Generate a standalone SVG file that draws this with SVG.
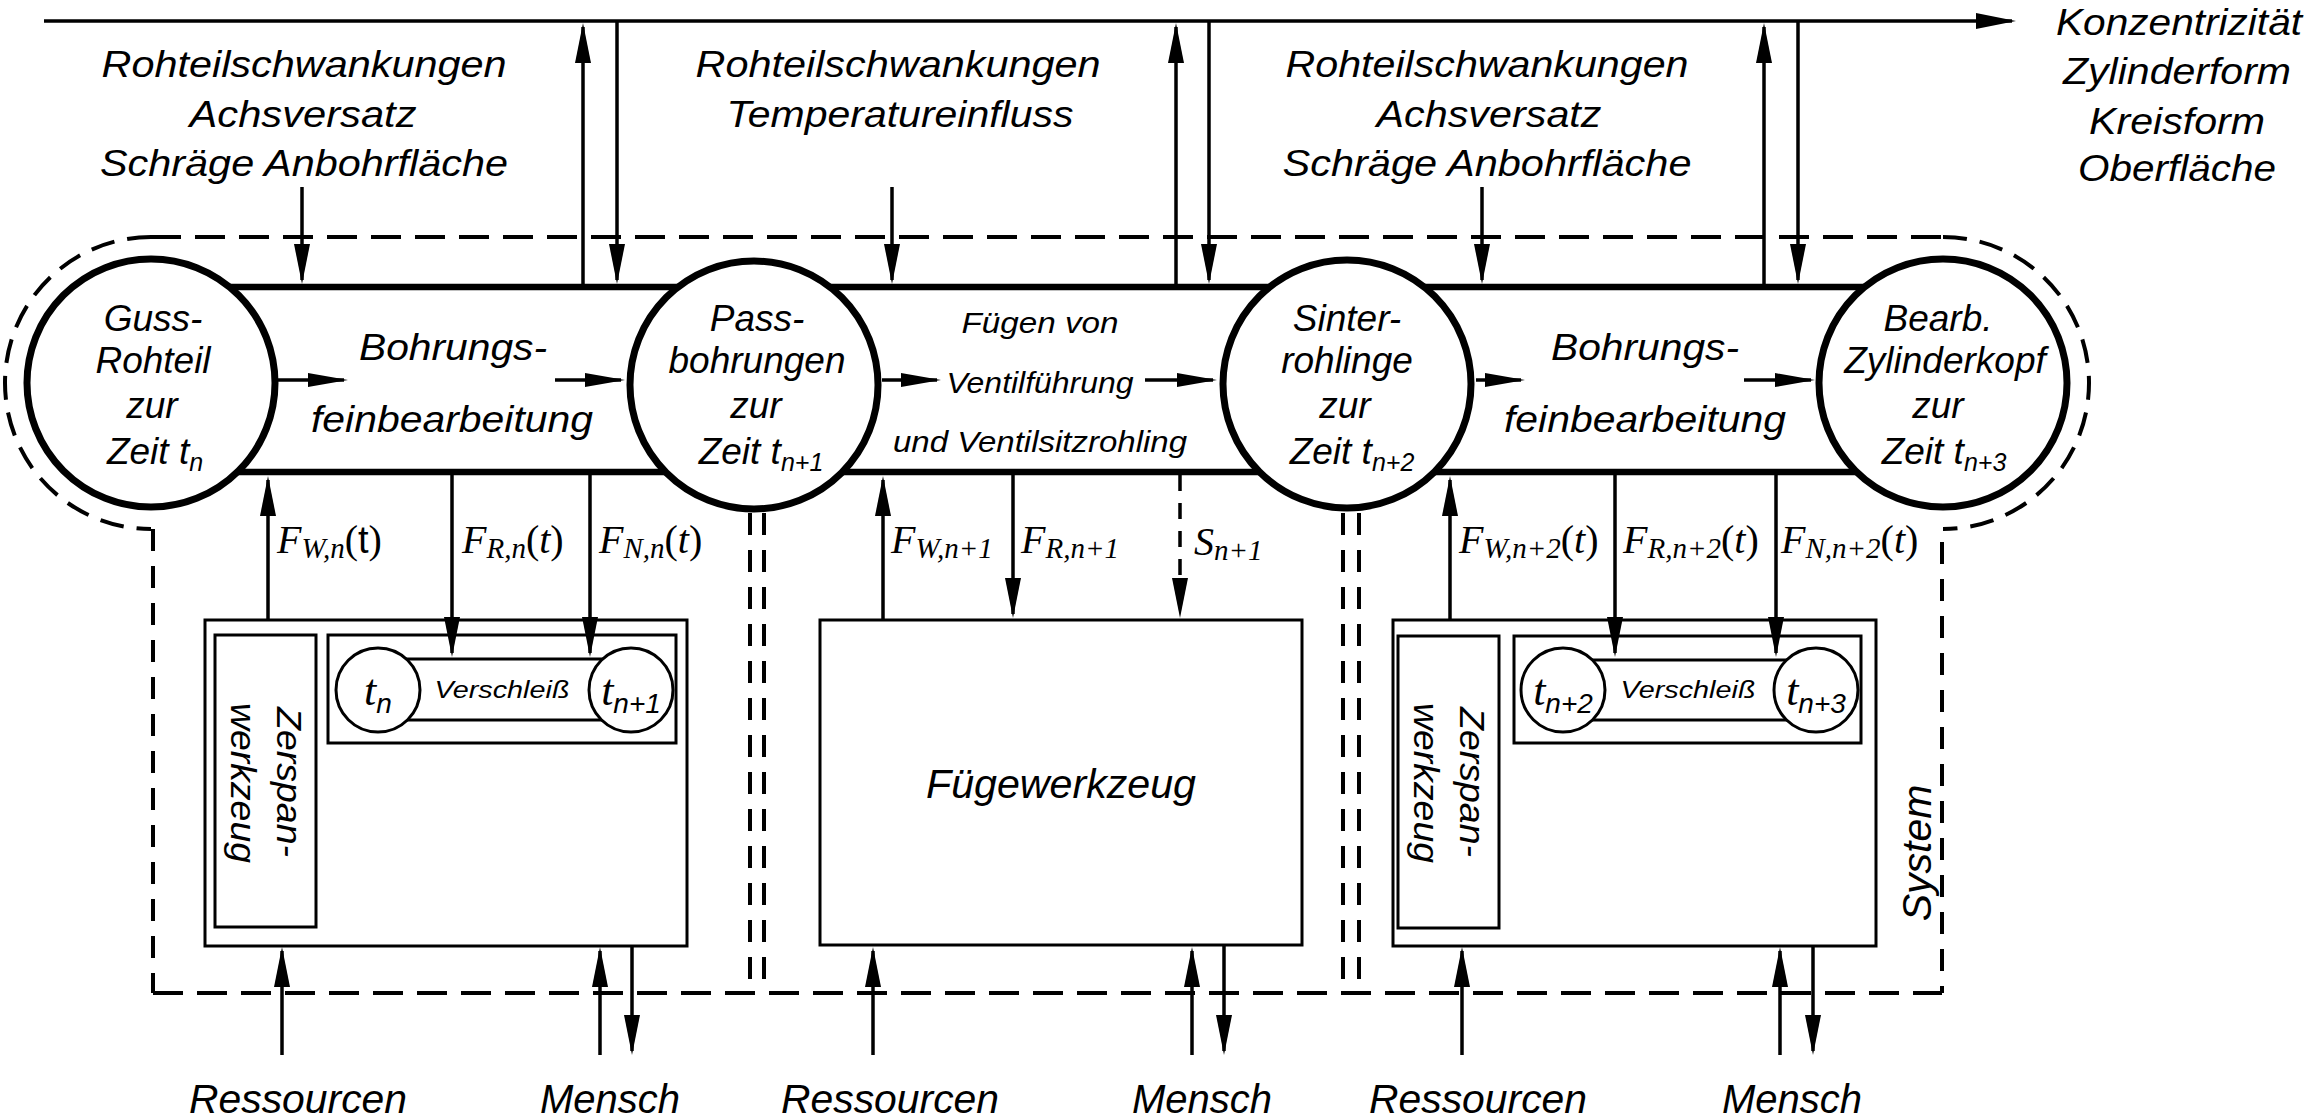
<svg xmlns="http://www.w3.org/2000/svg" width="2311" height="1120" viewBox="0 0 2311 1120">
<defs>
<marker id="ah" markerUnits="userSpaceOnUse" viewBox="0 0 40 16" markerWidth="40" markerHeight="16" refX="36" refY="8" orient="auto"><path d="M0,0 L40,8 L0,16 z" fill="#000"/></marker>
<marker id="ahs" markerUnits="userSpaceOnUse" viewBox="0 0 40 14" markerWidth="40" markerHeight="14" refX="36" refY="7" orient="auto"><path d="M0,0 L40,7 L0,14 z" fill="#000"/></marker>
</defs>
<style>
text{font-family:"Liberation Sans",Arial,sans-serif;font-style:italic;fill:#000}
.m{font-family:"Liberation Serif","Times New Roman",serif;font-style:italic}
.ar{stroke:#000;stroke-width:3.5;fill:none;marker-end:url(#ah)}
.ars{stroke:#000;stroke-width:3.5;fill:none;marker-end:url(#ahs)}
.ard{stroke:#000;stroke-width:3.5;fill:none;stroke-dasharray:16 12;marker-end:url(#ah)}
.box{fill:#fff;stroke:#000;stroke-width:3}
.boxn{fill:none;stroke:#000;stroke-width:3}
.dh{fill:none;stroke:#000;stroke-width:4;stroke-dasharray:30 14}
.dv{fill:none;stroke:#000;stroke-width:4;stroke-dasharray:22 15}
.da{fill:none;stroke:#000;stroke-width:4;stroke-dasharray:24 13}
.big{fill:#fff;stroke:#000;stroke-width:7}
.sm{fill:#fff;stroke:#000;stroke-width:3}
.band{stroke:#000;stroke-width:6.5;fill:none}
</style>
<rect x="0" y="0" width="2311" height="1120" fill="#fff"/>

<g id="system-boundary">
<path class="dh" d="M151 237 H1943"/>
<path class="da" d="M151 237 A146 146 0 0 0 151 529"/>
<path class="da" d="M1943 237 A146 146 0 0 1 1943 529"/>
<path class="dv" d="M153 529 V993"/>
<path class="dv" d="M1942 542 V993"/>
<path class="dh" d="M153 993 H1942"/>
<path class="dv" d="M750 513 V993"/>
<path class="dv" d="M764 513 V993"/>
<path class="dv" d="M1343 513 V993"/>
<path class="dv" d="M1359 513 V993"/>
<text transform="translate(1931,853) rotate(-90)" font-size="41" text-anchor="middle">System</text>
</g>

<g id="process-band">
<path class="band" d="M151 287 H1943 M151 472 H1943"/>
<text x="453" y="360" font-size="37" text-anchor="middle" textLength="188" lengthAdjust="spacingAndGlyphs">Bohrungs-</text>
<text x="452" y="432" font-size="37" text-anchor="middle" textLength="282" lengthAdjust="spacingAndGlyphs">feinbearbeitung</text>
<text x="1040" y="333" font-size="29" text-anchor="middle" textLength="157" lengthAdjust="spacingAndGlyphs">Fügen von</text>
<text x="1040" y="393" font-size="29" text-anchor="middle" textLength="187" lengthAdjust="spacingAndGlyphs">Ventilführung</text>
<text x="1040" y="452" font-size="29" text-anchor="middle" textLength="294" lengthAdjust="spacingAndGlyphs">und Ventilsitzrohling</text>
<text x="1645" y="360" font-size="37" text-anchor="middle" textLength="188" lengthAdjust="spacingAndGlyphs">Bohrungs-</text>
<text x="1645" y="432" font-size="37" text-anchor="middle" textLength="282" lengthAdjust="spacingAndGlyphs">feinbearbeitung</text>
</g>

<g id="n-guss">
<circle class="big" cx="151" cy="383" r="124"/>
<text x="153" y="331" font-size="37" text-anchor="middle">Guss-</text>
<text x="153" y="373" font-size="37" text-anchor="middle">Rohteil</text>
<text x="152" y="418" font-size="37" text-anchor="middle">zur</text>
<text x="155" y="464" font-size="37" text-anchor="middle">Zeit t<tspan font-size="25" dy="7">n</tspan></text>
</g>
<g id="n-pass">
<circle class="big" cx="754" cy="385" r="124"/>
<text x="757" y="331" font-size="37" text-anchor="middle">Pass-</text>
<text x="757" y="373" font-size="37" text-anchor="middle">bohrungen</text>
<text x="756" y="418" font-size="37" text-anchor="middle">zur</text>
<text x="761" y="464" font-size="37" text-anchor="middle">Zeit t<tspan font-size="25" dy="7">n+1</tspan></text>
</g>
<g id="n-sinter">
<circle class="big" cx="1347" cy="384" r="124"/>
<text x="1347" y="331" font-size="37" text-anchor="middle">Sinter-</text>
<text x="1347" y="373" font-size="37" text-anchor="middle">rohlinge</text>
<text x="1345" y="418" font-size="37" text-anchor="middle">zur</text>
<text x="1352" y="464" font-size="37" text-anchor="middle">Zeit t<tspan font-size="25" dy="7">n+2</tspan></text>
</g>
<g id="n-bearb">
<circle class="big" cx="1943" cy="383" r="124"/>
<text x="1938" y="331" font-size="37" text-anchor="middle">Bearb.</text>
<text x="1945" y="373" font-size="37" text-anchor="middle">Zylinderkopf</text>
<text x="1938" y="418" font-size="37" text-anchor="middle">zur</text>
<text x="1944" y="464" font-size="37" text-anchor="middle">Zeit t<tspan font-size="25" dy="7">n+3</tspan></text>
</g>

<g id="disturbances">
<text x="304" y="77" font-size="37" text-anchor="middle" textLength="405" lengthAdjust="spacingAndGlyphs">Rohteilschwankungen</text>
<text x="303" y="127" font-size="37" text-anchor="middle" textLength="227" lengthAdjust="spacingAndGlyphs">Achsversatz</text>
<text x="304" y="176" font-size="37" text-anchor="middle" textLength="408" lengthAdjust="spacingAndGlyphs">Schräge Anbohrfläche</text>
<text x="898" y="77" font-size="37" text-anchor="middle" textLength="405" lengthAdjust="spacingAndGlyphs">Rohteilschwankungen</text>
<text x="900" y="127" font-size="37" text-anchor="middle" textLength="347" lengthAdjust="spacingAndGlyphs">Temperatureinfluss</text>
<text x="1487" y="77" font-size="37" text-anchor="middle" textLength="403" lengthAdjust="spacingAndGlyphs">Rohteilschwankungen</text>
<text x="1489" y="127" font-size="37" text-anchor="middle" textLength="225" lengthAdjust="spacingAndGlyphs">Achsversatz</text>
<text x="1487" y="176" font-size="37" text-anchor="middle" textLength="409" lengthAdjust="spacingAndGlyphs">Schräge Anbohrfläche</text>
</g>

<g id="output">
<text x="2179" y="35" font-size="36" text-anchor="middle" textLength="246" lengthAdjust="spacingAndGlyphs">Konzentrizität</text>
<text x="2177" y="84" font-size="36" text-anchor="middle" textLength="228" lengthAdjust="spacingAndGlyphs">Zylinderform</text>
<text x="2177" y="134" font-size="36" text-anchor="middle" textLength="176" lengthAdjust="spacingAndGlyphs">Kreisform</text>
<text x="2177" y="181" font-size="36" text-anchor="middle" textLength="198" lengthAdjust="spacingAndGlyphs">Oberfläche</text>
</g>

<g id="tool-1">
<rect class="box" x="205" y="620" width="482" height="326"/>
<rect class="boxn" x="215" y="635" width="101" height="292"/>
<text transform="translate(277,782) rotate(90)" font-size="35" text-anchor="middle" textLength="150" lengthAdjust="spacingAndGlyphs">Zerspan-</text>
<text transform="translate(231,783) rotate(90)" font-size="35" text-anchor="middle" textLength="160" lengthAdjust="spacingAndGlyphs">werkzeug</text>
<rect class="boxn" x="328" y="635" width="348" height="108"/>
<rect class="boxn" x="378" y="659" width="253" height="61"/>
<circle class="sm" cx="378" cy="690" r="42"/>
<circle class="sm" cx="631" cy="690" r="42"/>
<text x="502" y="698" font-size="24" text-anchor="middle" textLength="135" lengthAdjust="spacingAndGlyphs">Verschleiß</text>
<text class="m" x="378" y="705" font-size="44" text-anchor="middle">t<tspan font-family="Liberation Sans" font-size="28" dy="8">n</tspan></text>
<text class="m" x="631" y="705" font-size="44" text-anchor="middle">t<tspan font-family="Liberation Sans" font-size="28" dy="8">n+1</tspan></text>
</g>

<g id="tool-2">
<rect class="box" x="820" y="620" width="482" height="325"/>
<text x="1061" y="798" font-size="40" text-anchor="middle" textLength="270" lengthAdjust="spacingAndGlyphs">Fügewerkzeug</text>
</g>

<g id="tool-3">
<rect class="box" x="1393" y="620" width="483" height="326"/>
<rect class="boxn" x="1398" y="636" width="101" height="292"/>
<text transform="translate(1460,782) rotate(90)" font-size="35" text-anchor="middle" textLength="150" lengthAdjust="spacingAndGlyphs">Zerspan-</text>
<text transform="translate(1414,783) rotate(90)" font-size="35" text-anchor="middle" textLength="160" lengthAdjust="spacingAndGlyphs">werkzeug</text>
<rect class="boxn" x="1514" y="636" width="347" height="107"/>
<rect class="boxn" x="1563" y="660" width="253" height="60"/>
<circle class="sm" cx="1563" cy="690" r="42"/>
<circle class="sm" cx="1816" cy="690" r="42"/>
<text x="1688" y="698" font-size="24" text-anchor="middle" textLength="135" lengthAdjust="spacingAndGlyphs">Verschleiß</text>
<text class="m" x="1563" y="705" font-size="44" text-anchor="middle">t<tspan font-family="Liberation Sans" font-size="28" dy="8">n+2</tspan></text>
<text class="m" x="1816" y="705" font-size="44" text-anchor="middle">t<tspan font-family="Liberation Sans" font-size="28" dy="8">n+3</tspan></text>
</g>

<g id="inputs">
<text x="298" y="1113" font-size="40" text-anchor="middle" textLength="218" lengthAdjust="spacingAndGlyphs">Ressourcen</text>
<text x="610" y="1113" font-size="40" text-anchor="middle">Mensch</text>
<text x="890" y="1113" font-size="40" text-anchor="middle" textLength="218" lengthAdjust="spacingAndGlyphs">Ressourcen</text>
<text x="1202" y="1113" font-size="40" text-anchor="middle">Mensch</text>
<text x="1478" y="1113" font-size="40" text-anchor="middle" textLength="218" lengthAdjust="spacingAndGlyphs">Ressourcen</text>
<text x="1792" y="1113" font-size="40" text-anchor="middle">Mensch</text>
</g>

<g id="connectors">
<path class="ar" d="M44 21 H2012"/>
<path class="ar" d="M583 287 V27"/>
<path class="ar" d="M617 21 V280"/>
<path class="ar" d="M1176 287 V27"/>
<path class="ar" d="M1209 21 V280"/>
<path class="ar" d="M1764 287 V27"/>
<path class="ar" d="M1798 21 V280"/>
<path class="ar" d="M302 187 V280"/>
<path class="ar" d="M892 187 V280"/>
<path class="ar" d="M1482 187 V280"/>
<path class="ars" d="M277 380 H344"/>
<path class="ars" d="M555 380 H621"/>
<path class="ars" d="M882 380 H937"/>
<path class="ars" d="M1145 380 H1213"/>
<path class="ars" d="M1476 380 H1521"/>
<path class="ars" d="M1744 380 H1811"/>
<path class="ar" d="M268 620 V480"/>
<path class="ar" d="M452 475 V653"/>
<path class="ar" d="M590 475 V653"/>
<path class="ar" d="M883 620 V480"/>
<path class="ar" d="M1013 475 V614"/>
<path class="ard" d="M1180 475 V614"/>
<path class="ar" d="M1450 620 V480"/>
<path class="ar" d="M1615 475 V653"/>
<path class="ar" d="M1776 475 V653"/>
<path class="ar" d="M282 1055 V951"/>
<path class="ar" d="M600 1055 V951"/>
<path class="ar" d="M632 946 V1051"/>
<path class="ar" d="M873 1055 V951"/>
<path class="ar" d="M1192 1055 V951"/>
<path class="ar" d="M1224 946 V1051"/>
<path class="ar" d="M1462 1055 V951"/>
<path class="ar" d="M1780 1055 V951"/>
<path class="ar" d="M1813 946 V1051"/>
</g>

<g id="connector-labels">
<text class="m" x="277" y="553" font-size="40">F<tspan font-size="29" dy="5">W,n</tspan><tspan font-style="normal" dy="-5">(</tspan><tspan font-family="Liberation Sans" font-style="normal" font-size="38">t</tspan><tspan font-style="normal">)</tspan></text>
<text class="m" x="462" y="553" font-size="40">F<tspan font-size="29" dy="5">R,n</tspan><tspan font-style="normal" dy="-5">(</tspan>t<tspan font-style="normal">)</tspan></text>
<text class="m" x="599" y="553" font-size="40">F<tspan font-size="29" dy="5">N,n</tspan><tspan font-style="normal" dy="-5">(</tspan>t<tspan font-style="normal">)</tspan></text>
<text class="m" x="891" y="553" font-size="40">F<tspan font-size="29" dy="5">W,n+1</tspan></text>
<text class="m" x="1021" y="553" font-size="40">F<tspan font-size="29" dy="5">R,n+1</tspan></text>
<text class="m" x="1194" y="555" font-size="40">S<tspan font-size="29" dy="5">n+1</tspan></text>
<text class="m" x="1459" y="553" font-size="40">F<tspan font-size="29" dy="5">W,n+2</tspan><tspan font-style="normal" dy="-5">(</tspan>t<tspan font-style="normal">)</tspan></text>
<text class="m" x="1623" y="553" font-size="40">F<tspan font-size="29" dy="5">R,n+2</tspan><tspan font-style="normal" dy="-5">(</tspan>t<tspan font-style="normal">)</tspan></text>
<text class="m" x="1781" y="553" font-size="40">F<tspan font-size="29" dy="5">N,n+2</tspan><tspan font-style="normal" dy="-5">(</tspan>t<tspan font-style="normal">)</tspan></text>
</g>
</svg>
